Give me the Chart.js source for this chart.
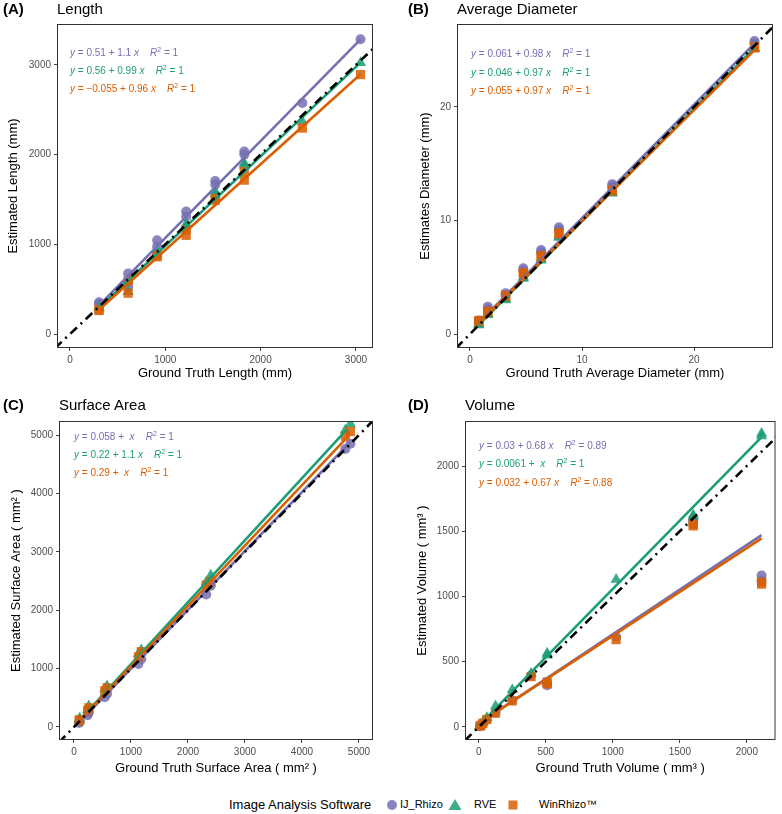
<!DOCTYPE html>
<html>
<head>
<meta charset="utf-8">
<script src="https://cdn.jsdelivr.net/npm/chart.js@4.4.1/dist/chart.umd.min.js"></script>
<style>
  body { margin: 0; background: #fff; font-family: "Liberation Sans", Arial, sans-serif; }
  #wrap { position: relative; width: 782px; height: 814px; overflow: hidden; }
  canvas { position: absolute; }
  .tag { position: absolute; font-size: 15px; font-weight: bold; line-height: 18px; }
  .ttl { position: absolute; font-size: 15px; line-height: 18px; }
  .eq { position: absolute; font-size: 10px; line-height: 12px; white-space: nowrap; }
  .eq sup { font-size: 7px; line-height: 0; vertical-align: 4px; }
  .ij { color: #7570B3; } .rve { color: #1B9E77; } .win { color: #D95F02; }
  .leg { position: absolute; white-space: nowrap; }
</style>
</head>
<body>
<div id="wrap">
  <canvas id="cA" width="391" height="390" style="left:0;top:0"></canvas>
  <canvas id="cB" width="391" height="390" style="left:391px;top:0"></canvas>
  <canvas id="cC" width="391" height="400" style="left:0;top:380px"></canvas>
  <canvas id="cD" width="391" height="400" style="left:391px;top:380px"></canvas>

  <div class="tag" style="left:3px;top:0">(A)</div>
  <div class="ttl" style="left:57px;top:0">Length</div>
  <div class="tag" style="left:408px;top:0">(B)</div>
  <div class="ttl" style="left:457px;top:0">Average Diameter</div>
  <div class="tag" style="left:3px;top:396px">(C)</div>
  <div class="ttl" style="left:59px;top:396px">Surface Area</div>
  <div class="tag" style="left:408px;top:396px">(D)</div>
  <div class="ttl" style="left:465px;top:396px">Volume</div>

  <div class="eq ij" style="left:70px;top:47px"><i>y</i> = 0.51 + 1.1 <i>x</i> &nbsp;&nbsp; <i>R</i><sup>2</sup> = 1</div>
  <div class="eq rve" style="left:70px;top:65px"><i>y</i> = 0.56 + 0.99 <i>x</i> &nbsp;&nbsp; <i>R</i><sup>2</sup> = 1</div>
  <div class="eq win" style="left:70px;top:83px"><i>y</i> = −0.055 + 0.96 <i>x</i> &nbsp;&nbsp; <i>R</i><sup>2</sup> = 1</div>

  <div class="eq ij" style="left:471px;top:48px"><i>y</i> = 0.061 + 0.98 <i>x</i> &nbsp;&nbsp; <i>R</i><sup>2</sup> = 1</div>
  <div class="eq rve" style="left:471px;top:67px"><i>y</i> = 0.046 + 0.97 <i>x</i> &nbsp;&nbsp; <i>R</i><sup>2</sup> = 1</div>
  <div class="eq win" style="left:471px;top:85px"><i>y</i> = 0.055 + 0.97 <i>x</i> &nbsp;&nbsp; <i>R</i><sup>2</sup> = 1</div>

  <div class="eq ij" style="left:74px;top:431px"><i>y</i> = 0.058 + &nbsp;<i>x</i> &nbsp;&nbsp; <i>R</i><sup>2</sup> = 1</div>
  <div class="eq rve" style="left:74px;top:449px"><i>y</i> = 0.22 + 1.1 <i>x</i> &nbsp;&nbsp; <i>R</i><sup>2</sup> = 1</div>
  <div class="eq win" style="left:74px;top:467px"><i>y</i> = 0.29 + &nbsp;<i>x</i> &nbsp;&nbsp; <i>R</i><sup>2</sup> = 1</div>

  <div class="eq ij" style="left:479px;top:440px"><i>y</i> = 0.03 + 0.68 <i>x</i> &nbsp;&nbsp; <i>R</i><sup>2</sup> = 0.89</div>
  <div class="eq rve" style="left:479px;top:458px"><i>y</i> = 0.0061 + &nbsp;<i>x</i> &nbsp;&nbsp; <i>R</i><sup>2</sup> = 1</div>
  <div class="eq win" style="left:479px;top:477px"><i>y</i> = 0.032 + 0.67 <i>x</i> &nbsp;&nbsp; <i>R</i><sup>2</sup> = 0.88</div>

  <div class="leg" style="left:229px;top:797px;font-size:13px">Image Analysis Software</div>
  <svg class="leg" style="left:385px;top:797px" width="150" height="16">
    <circle cx="7" cy="8" r="5" fill="#7570B3" fill-opacity="0.85"></circle>
    <polygon points="70,2 76.5,13 63.5,13" fill="#1B9E77" fill-opacity="0.85"></polygon>
    <rect x="123.5" y="3.5" width="9" height="9" fill="#D95F02" fill-opacity="0.85"></rect>
  </svg>
  <div class="leg" style="left:400px;top:798px;font-size:11px">IJ_Rhizo</div>
  <div class="leg" style="left:474px;top:798px;font-size:11px">RVE</div>
  <div class="leg" style="left:539px;top:798px;font-size:11px">WinRhizo™</div>
</div>

<script>
const colIJ = "#7570B3";
const colRVE = "#1B9E77";
const colWin = "#D95F02";
const fontFam = "'Liberation Sans', Arial, sans-serif";

// (A) Length (mm)
const lenTruth = [305, 305, 610, 610, 914, 914, 1219, 1219, 1524, 1524, 1829, 1829, 2438, 3048];
const lenIJ = [335, 355, 675, 520, 1045, 975, 1365, 1310, 1705, 1665, 2035, 2000, 2575, 3285];
const lenRVE = [300, 290, 600, 470, 930, 900, 1230, 1195, 1590, 1560, 1905, 1880, 2370, 3025];
const lenWin = [272, 262, 590, 455, 880, 860, 1160, 1100, 1510, 1490, 1810, 1715, 2296, 2892];
const lenFitIJ = [[305, 320], [3048, 3285]];
const lenFitRVE = [[305, 290], [3048, 3025]];
const lenFitWin = [[305, 270], [3048, 2895]];
const lenTicks = [0, 1000, 2000, 3000];

// (B) Average diameter (mm)
const diaTruth = [0.79, 0.79, 1.59, 1.59, 3.18, 3.18, 4.76, 4.76, 6.35, 6.35, 7.94, 7.94, 12.7, 12.7, 25.4, 25.4];
const diaIJ = [1.0, 1.2, 2.2, 2.4, 3.4, 3.6, 5.6, 5.8, 7.2, 7.4, 9.2, 9.4, 13.0, 13.2, 25.6, 25.8];
const diaRVE = [0.8, 0.9, 1.7, 1.8, 3.0, 3.1, 4.9, 5.0, 6.5, 6.6, 8.5, 8.6, 12.4, 12.5, 25.1, 25.2];
const diaWin = [1.1, 1.2, 1.9, 2.0, 3.3, 3.4, 5.3, 5.4, 6.8, 6.9, 8.8, 8.9, 12.6, 12.7, 25.2, 25.3];
const diaFitIJ = [[0.79, 1.0], [25.4, 25.6]];
const diaFitRVE = [[0.79, 0.8], [25.4, 25.2]];
const diaFitWin = [[0.79, 0.95], [25.4, 25.0]];
const diaTicks = [0, 10, 20];

// (C) Surface area (mm2)
const areaTruth = [90, 100, 240, 260, 540, 580, 1130, 1180, 2320, 2400, 4760, 4850];
const areaIJ = [70, 95, 200, 250, 510, 570, 1080, 1160, 2270, 2420, 4760, 4850];
const areaRVE = [120, 150, 300, 360, 650, 700, 1250, 1320, 2480, 2600, 5080, 5190];
const areaWin = [105, 125, 280, 330, 620, 670, 1200, 1290, 2430, 2490, 4980, 5060];
const areaFitIJ = [[90, 80], [4850, 4880]];
const areaFitRVE = [[90, 110], [4780, 5090]];
const areaFitWin = [[90, 100], [4850, 5020]];
const areaTicks = [0, 1000, 2000, 3000, 4000, 5000];

// (D) Volume (mm3)
const volTruth = [8, 16, 30, 60, 125, 250, 390, 510, 510, 1025, 1600, 1600, 2110, 2110];
const volIJ = [5, 12, 25, 55, 110, 205, 395, 320, 340, 690, 1560, 1585, 1120, 1160];
const volRVE = [10, 18, 35, 70, 160, 285, 410, 550, 565, 1130, 1610, 1625, 2230, 2250];
const volWin = [6, 12, 28, 58, 105, 200, 385, 330, 345, 670, 1540, 1555, 1095, 1110];
const volFitIJ = [[0, 25], [2110, 1470]];
const volFitRVE = [[0, 10], [2110, 2222]];
const volFitWin = [[0, 28], [2110, 1445]];
const volTicks = [0, 500, 1000, 1500, 2000];

function pts(xs, ys) {
  return xs.map((x, i) => ({ x: x, y: ys[i] }));
}

function fitLine(seg, color) {
  return {
    data: seg.map((p) => ({ x: p[0], y: p[1] })),
    showLine: true, borderColor: color, borderWidth: 2.6, pointRadius: 0,
  };
}

function scatter(xs, ys, color, style, r) {
  return {
    data: pts(xs, ys), pointStyle: style, pointRadius: r,
    backgroundColor: color + "d9", borderWidth: 0, borderColor: color + "d9",
  };
}

function axis(range, ticks, title, isX, size, titlePad) {
  return {
    type: "linear", min: range[0], max: range[1],
    afterBuildTicks: (s) => { s.ticks = ticks.map((v) => ({ value: v })); },
    afterFit: (s) => { if (isX) s.height = size; else s.width = size; },
    grid: { drawOnChartArea: false, drawTicks: true, tickLength: 3, color: "#444" },
    border: { display: false },
    ticks: {
      color: "#4d4d4d", font: { family: fontFam, size: 10 }, padding: 3, maxRotation: 0, autoSkip: false,
      callback: (v) => String(v),
    },
    title: { display: true, text: title, color: "#000", font: { family: fontFam, size: 13 }, padding: { top: titlePad, bottom: titlePad } },
  };
}

// panel frame
const boxPlugin = {
  id: "box",
  afterDraw(chart) {
    const a = chart.chartArea;
    const ctx = chart.ctx;
    ctx.save();
    ctx.strokeStyle = "#333";
    ctx.lineWidth = 1;
    ctx.strokeRect(a.left + 0.5, a.top + 0.5, a.right - a.left - 1, a.bottom - a.top - 1);
    ctx.restore();
  },
};

function drawPanel(id, p) {
  const lo = Math.min(p.xRange[0], p.yRange[0]);
  const hi = Math.max(p.xRange[1], p.yRange[1]);
  new Chart(document.getElementById(id), {
    type: "scatter",
    data: {
      datasets: [
        { data: [{ x: lo, y: lo }, { x: hi, y: hi }], showLine: true, borderColor: "#000",
          borderWidth: 2.6, borderDash: [9, 5, 2, 5], pointRadius: 0 },
        fitLine(p.fitWin, colWin),
        fitLine(p.fitRVE, colRVE),
        fitLine(p.fitIJ, colIJ),
        scatter(p.truth, p.win, colWin, "rect", 6.5),
        scatter(p.truth, p.rve, colRVE, "triangle", 6.5),
        scatter(p.truth, p.ij, colIJ, "circle", 5),
      ],
    },
    options: {
      responsive: false,
      animation: false,
      layout: { padding: { top: p.padTop, right: p.padRight, left: 0, bottom: 0 } },
      plugins: { legend: { display: false }, tooltip: { enabled: false } },
      scales: {
        x: axis(p.xRange, p.ticks, p.xTitle, true, p.xh, p.xPad),
        y: axis(p.yRange, p.ticks, p.yTitle, false, p.yw, p.yPad),
      },
    },
    plugins: [boxPlugin],
  });
}

drawPanel("cA", {
  truth: lenTruth, ij: lenIJ, rve: lenRVE, win: lenWin,
  fitIJ: lenFitIJ, fitRVE: lenFitRVE, fitWin: lenFitWin, ticks: lenTicks,
  xRange: [-136, 3179], yRange: [-156, 3456],
  xTitle: "Ground Truth Length (mm)", yTitle: "Estimated Length (mm)",
  padTop: 24, padRight: 18, yw: 57, xh: 42, xPad: 9, yPad: 6,
});

drawPanel("cB", {
  truth: diaTruth, ij: diaIJ, rve: diaRVE, win: diaWin,
  fitIJ: diaFitIJ, fitRVE: diaFitRVE, fitWin: diaFitWin, ticks: diaTicks,
  xRange: [-1.16, 27.05], yRange: [-1.23, 27.3],
  xTitle: "Ground Truth Average Diameter (mm)", yTitle: "Estimates Diameter (mm)",
  padTop: 24, padRight: 9, yw: 66, xh: 42, xPad: 9, yPad: 27,
});

drawPanel("cC", {
  truth: areaTruth, ij: areaIJ, rve: areaRVE, win: areaWin,
  fitIJ: areaFitIJ, fitRVE: areaFitRVE, fitWin: areaFitWin, ticks: areaTicks,
  xRange: [-263, 5246], yRange: [-223, 5240],
  xTitle: "Ground Truth Surface Area ( mm² )", yTitle: "Estimated Surface Area ( mm² )",
  padTop: 41, padRight: 18, yw: 59, xh: 40, xPad: 4, yPad: 9,
});

drawPanel("cD", {
  truth: volTruth, ij: volIJ, rve: volRVE, win: volWin,
  fitIJ: volFitIJ, fitRVE: volFitRVE, fitWin: volFitWin, ticks: volTicks,
  xRange: [-103, 2214], yRange: [-100, 2345],
  xTitle: "Ground Truth Volume ( mm³ )", yTitle: "Estimated Volume ( mm³ )",
  padTop: 41, padRight: 3, yw: 74, xh: 40, xPad: 4, yPad: 24,
});
</script>
</body>
</html>
